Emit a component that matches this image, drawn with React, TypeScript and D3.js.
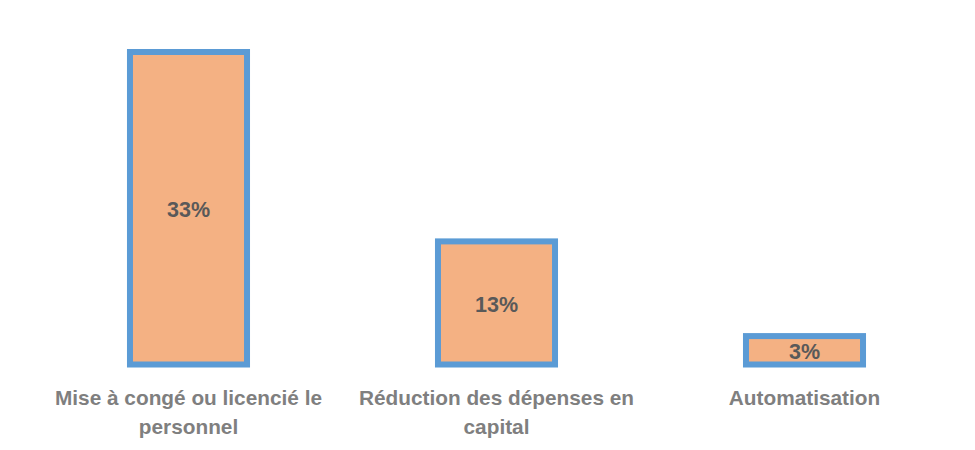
import React, { useEffect, useRef } from 'react';
import * as d3 from 'd3';

const categories = [
  'Mise à congé ou licencié le personnel',
  'Réduction des dépenses en capital',
  'Automatisation',
];
const values = [33, 13, 3];

const WIDTH = 975;
const HEIGHT = 450;

export default function App() {
  const svgRef = useRef<SVGSVGElement>(null);

  useEffect(() => {
    if (!svgRef.current) return;
    const svg = d3.select(svgRef.current);
    svg.selectAll('*').remove();

    const x = d3.scaleBand<string>()
      .domain(categories)
      .range([34.5, 958.5])
      .paddingInner(0.62)
      .paddingOuter(0.31);

    const y = d3.scaleLinear()
      .domain([0, 33])
      .range([364.5, 52]);

    const data = categories.map((c, i) => ({ category: c, value: values[i] }));

    // bars
    svg.append('g')
      .selectAll('rect')
      .data(data)
      .join('rect')
      .attr('x', d => x(d.category)!)
      .attr('y', d => y(d.value))
      .attr('width', x.bandwidth())
      .attr('height', d => y(0) - y(d.value))
      .attr('fill', '#F4B183')
      .attr('stroke', '#5B9BD5')
      .attr('stroke-width', 6);

    // value labels, centred in the bar
    svg.append('g')
      .selectAll('text')
      .data(data)
      .join('text')
      .attr('x', d => x(d.category)! + x.bandwidth() / 2)
      .attr('y', d => (y(d.value) + y(0)) / 2)
      .attr('dy', '0.42em')
      .attr('text-anchor', 'middle')
      .style('font-family', '"Liberation Sans", Arial, sans-serif')
      .style('font-weight', 'bold')
      .style('font-size', '21.5px')
      .style('fill', '#595959')
      .text(d => `${d.value}%`);

    // category labels, wrapped to the band step
    const labels = svg.append('g')
      .selectAll('text')
      .data(data)
      .join('text')
      .attr('x', d => x(d.category)! + x.bandwidth() / 2)
      .attr('y', 405)
      .attr('text-anchor', 'middle')
      .style('font-family', '"Liberation Sans", Arial, sans-serif')
      .style('font-weight', 'bold')
      .style('font-size', '20.8px')
      .style('fill', '#7F7F7F');

    const maxWidth = x.step() - 10;
    labels.each(function (d) {
      const text = d3.select(this);
      const words = d.category.split(/\s+/);
      const cx = text.attr('x');
      let line: string[] = [];
      let tspan = text.append('tspan').attr('x', cx).attr('dy', 0);
      for (const word of words) {
        line.push(word);
        tspan.text(line.join(' '));
        if ((tspan.node() as SVGTSpanElement).getComputedTextLength() > maxWidth && line.length > 1) {
          line.pop();
          tspan.text(line.join(' '));
          line = [word];
          tspan = text.append('tspan').attr('x', cx).attr('dy', 29).text(word);
        }
      }
    });
  }, []);

  return (
    <svg
      ref={svgRef}
      width={WIDTH}
      height={HEIGHT}
      style={{ position: 'absolute', left: 0, top: 0, background: '#fff' }}
    />
  );
}
